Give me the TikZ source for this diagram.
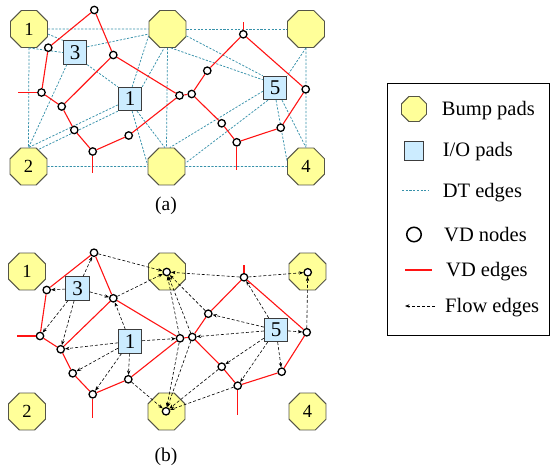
\documentclass[tikz,border=0pt]{standalone}
\usepackage{fontspec}
\setmainfont{Liberation Serif}
\usetikzlibrary{shapes.geometric,arrows.meta}
\definecolor{padyellow}{RGB}{255,255,153}
\definecolor{padedge}{RGB}{85,85,70}
\definecolor{iofill}{RGB}{204,236,255}
\definecolor{ioedge}{RGB}{60,60,60}
\definecolor{dtcol}{RGB}{55,145,170}
\definecolor{vdred}{RGB}{255,20,20}
\begin{document}
\begin{tikzpicture}[x=1pt,y=-1pt,
  bump/.style={regular polygon,regular polygon sides=8,minimum size=40pt,inner sep=0pt,fill=padyellow,draw=padedge,line width=0.9pt,font=\fontsize{18.5}{18.5}\selectfont},
  io/.style={rectangle,minimum size=23.5pt,inner sep=0pt,fill=iofill,draw=ioedge,line width=0.9pt,font=\fontsize{21}{21}\selectfont},
  vd/.style={circle,minimum size=7.4pt,inner sep=0pt,fill=white,draw=black,line width=1.3pt},
  dt/.style={dtcol,dash pattern=on 2.2pt off 1.5pt,line width=0.75pt},
  vde/.style={vdred,line width=1.1pt},
  flow/.style={black,dash pattern=on 3pt off 2pt,line width=0.6pt,-{Stealth[length=4.5pt,width=3.4pt]}},
  lgtext/.style={anchor=base west,inner sep=0pt,font=\fontsize{20.5}{24}\selectfont},
  captext/.style={inner sep=0pt,font=\fontsize{19.5}{22}\selectfont},
]
\useasboundingbox (0,0) rectangle (553,470);

% ================= (a) =================
\node[bump] (pa1) at (29,29) {1};
\node[bump] (paTM) at (167.5,29) {};
\node[bump] (paTR) at (306,29) {};
\node[bump] (pa2) at (28.5,166.5) {2};
\node[bump] (paBM) at (166.5,166.5) {};
\node[bump] (pa4) at (306,166.5) {4};
\node[io] (ba3) at (75,52.5) {3};
\node[io] (ba1) at (130,99) {1};
\node[io] (ba5) at (275,88) {5};

% DT edges
\draw[dt] (pa1.east) -- (paTM.west);
\draw[dt] (paTM.east) -- (paTR.west);
\draw[dt] (pa1.south) -- (pa2.north);
\draw[dt] (paTR.south) -- (pa4.north);
\draw[dt] (pa2.east) -- (paBM.west);
\draw[dt] (paBM.east) -- (pa4.west);
\draw[dt] (paTM.south) -- (paBM.north);
\draw[dt] (pa1.345) -- (ba3.north west);
\draw[dt] (pa1.south) -- (ba3.west);
\draw[dt] (ba3.25) -- (paTM.195);
\draw[dt] (ba3.south east) -- (ba1.north west);
\draw[dt] (ba3.236) -- (pa2.north);
\draw[dt] (ba1.206) -- (pa2.north);
\draw[dt] (ba1.south west) -- (pa2.60);
\draw[dt] (ba1.80) -- (paTM.200);
\draw[dt] (ba1.north east) -- (paTM.260);
\draw[dt] (ba1.280) -- (paBM.175);
\draw[dt] (ba1.300) -- (paBM.95);
\draw[dt] (paTM.280) -- (ba5.146);
\draw[dt] (paTM.340) -- (ba5.north west);
\draw[dt] (paTR.south) -- (ba5.north east);
\draw[dt] (ba5.195) -- (paBM.80);
\draw[dt] (ba5.240) -- (paBM.10);
\draw[dt] (ba5.275) -- (pa4.165);
\draw[dt] (ba5.300) -- (pa4.north);

% VD nodes (a)
\node[vd] (aA) at (94.3,10) {};
\node[vd] (aB) at (48.3,47.7) {};
\node[vd] (aC) at (113.3,55) {};
\node[vd] (aD) at (41.5,92.5) {};
\node[vd] (aE) at (61.7,106.5) {};
\node[vd] (aF) at (179.5,95.5) {};
\node[vd] (aG) at (74.3,130) {};
\node[vd] (aH) at (128.7,135.5) {};
\node[vd] (aI) at (92.7,151.5) {};
\node[vd] (aJ) at (243.3,34.3) {};
\node[vd] (aK) at (207.3,70.7) {};
\node[vd] (aM) at (191.7,94) {};
\node[vd] (aN) at (305.7,89.3) {};
\node[vd] (aO) at (221.7,123.3) {};
\node[vd] (aP) at (236.7,142.3) {};
\node[vd] (aQ) at (280.7,127.7) {};
\coordinate (aDs) at (18,92.5);
\coordinate (aIs) at (92.7,173);
\coordinate (aJs) at (243.3,22);
\coordinate (aPs) at (236.7,170);

\draw[vde] (aA) -- (aB);
\draw[vde] (aA) -- (aC);
\draw[vde] (aB) -- (aD);
\draw[vde] (aD) -- (aDs);
\draw[vde] (aD) -- (aE);
\draw[vde] (aE) -- (aC);
\draw[vde] (aE) -- (aG);
\draw[vde] (aG) -- (aI);
\draw[vde] (aI) -- (aIs);
\draw[vde] (aI) -- (aH);
\draw[vde] (aH) -- (aF);
\draw[vde] (aC) -- (aF);
\draw[vde] (aF) -- (aM);
\draw[vde] (aM) -- (aK);
\draw[vde] (aK) -- (aJ);
\draw[vde] (aJ) -- (aJs);
\draw[vde] (aJ) -- (aN);
\draw[vde] (aN) -- (aQ);
\draw[vde] (aQ) -- (aP);
\draw[vde] (aP) -- (aPs);
\draw[vde] (aP) -- (aO);
\draw[vde] (aO) -- (aM);

\node[captext] (capa) at (166,206) {(a)};

% ================= (b) =================
\node[bump] (pb1) at (27,271.5) {1};
\node[bump] (pbTM) at (167,271.5) {};
\node[bump] (pbTR) at (307.5,271.5) {};
\node[bump] (pb2) at (27,411.5) {2};
\node[bump] (pbBM) at (166.5,411.5) {};
\node[bump] (pb4) at (307.5,411.5) {4};
\node[io] (bb3) at (77.5,288.5) {3};
\node[io] (bb1) at (130,341.5) {1};
\node[io] (bb5) at (276,330) {5};

\node[vd] (bA) at (94,252.7) {};
\node[vd] (bB) at (46.7,290) {};
\node[vd] (bC) at (113.3,298.3) {};
\node[vd] (bD) at (40,336) {};
\node[vd] (bE) at (60.7,349.3) {};
\node[vd] (bF) at (180,338.3) {};
\node[vd] (bG) at (72.7,373.3) {};
\node[vd] (bH) at (128.3,379.3) {};
\node[vd] (bI) at (92.7,394.3) {};
\node[vd] (bJ) at (244,277.3) {};
\node[vd] (bK) at (208.3,313.7) {};
\node[vd] (bM) at (192.3,337) {};
\node[vd] (bN) at (306.7,332.3) {};
\node[vd] (bO) at (221.7,366.7) {};
\node[vd] (bP) at (237.7,385.7) {};
\node[vd] (bQ) at (281.7,371.7) {};
\node[vd] (sTM) at (166.7,272) {};
\node[vd] (sTR) at (307.7,272.3) {};
\node[vd] (sBM) at (166,411.3) {};
\coordinate (bDs) at (17,336);
\coordinate (bIs) at (92.7,418);
\coordinate (bJs) at (244,265);
\coordinate (bPs) at (237.7,414.5);

\draw[vde] (bA) -- (bB);
\draw[vde] (bA) -- (bC);
\draw[vde] (bB) -- (bD);
\draw[vde] (bD) -- (bDs);
\draw[vde] (bD) -- (bE);
\draw[vde] (bE) -- (bC);
\draw[vde] (bE) -- (bG);
\draw[vde] (bG) -- (bI);
\draw[vde] (bI) -- (bIs);
\draw[vde] (bI) -- (bH);
\draw[vde] (bH) -- (bF);
\draw[vde] (bC) -- (bF);
\draw[vde] (bF) -- (bM);
\draw[vde] (bM) -- (bK);
\draw[vde] (bK) -- (bJ);
\draw[vde] (bJ) -- (bJs);
\draw[vde] (bJ) -- (bN);
\draw[vde] (bN) -- (bQ);
\draw[vde] (bQ) -- (bP);
\draw[vde] (bP) -- (bPs);
\draw[vde] (bP) -- (bO);
\draw[vde] (bO) -- (bM);

% flow edges
\foreach \t in {bA,bB,bC,bD,bE} \draw[flow] (bb3) -- (\t);
\foreach \t in {bC,bE,bF,bG,bH,bI} \draw[flow] (bb1) -- (\t);
\foreach \t in {bJ,bK,bM,bN,bO,bP,bQ} \draw[flow] (bb5) -- (\t);
\foreach \s in {bA,bC,bJ,bK,bF,bM} \draw[flow] (\s) -- (sTM);
\foreach \s in {bJ,bN} \draw[flow] (\s) -- (sTR);
\foreach \s in {bH,bF,bM,bO,bP} \draw[flow] (\s) -- (sBM);

\node[captext] (capb) at (166,456.5) {(b)};

% ================= legend =================
\draw[line width=0.9pt] (387,83) rectangle (549.5,335);
\node[bump,minimum size=27pt] (lgb) at (414,109) {};
\node[io,minimum size=19.5pt] (lgi) at (414,151) {};
\coordinate (ldt1) at (402,190);
\coordinate (ldt2) at (429,190);
\draw[dt] (ldt1) -- (ldt2);
\node[vd,minimum size=14.5pt,line width=1.5pt] (lgv) at (414,234.5) {};
\coordinate (lvd1) at (405,270);
\coordinate (lvd2) at (432,270);
\draw[vde] (lvd1) -- (lvd2);
\coordinate (lfl1) at (435,306);
\coordinate (lfl2) at (405,306);
\draw[flow] (lfl1) -- (lfl2);
\node[lgtext] (t1) at (441.7,115.7) {Bump pads};
\node[lgtext] (t2) at (442.7,157) {I/O pads};
\node[lgtext] (t3) at (442.7,197.3) {DT edges};
\node[lgtext] (t4) at (444,241.7) {VD nodes};
\node[lgtext] (t5) at (446,276.5) {VD edges};
\node[lgtext] (t6) at (445,312.5) {Flow edges};
\end{tikzpicture}
\end{document}
